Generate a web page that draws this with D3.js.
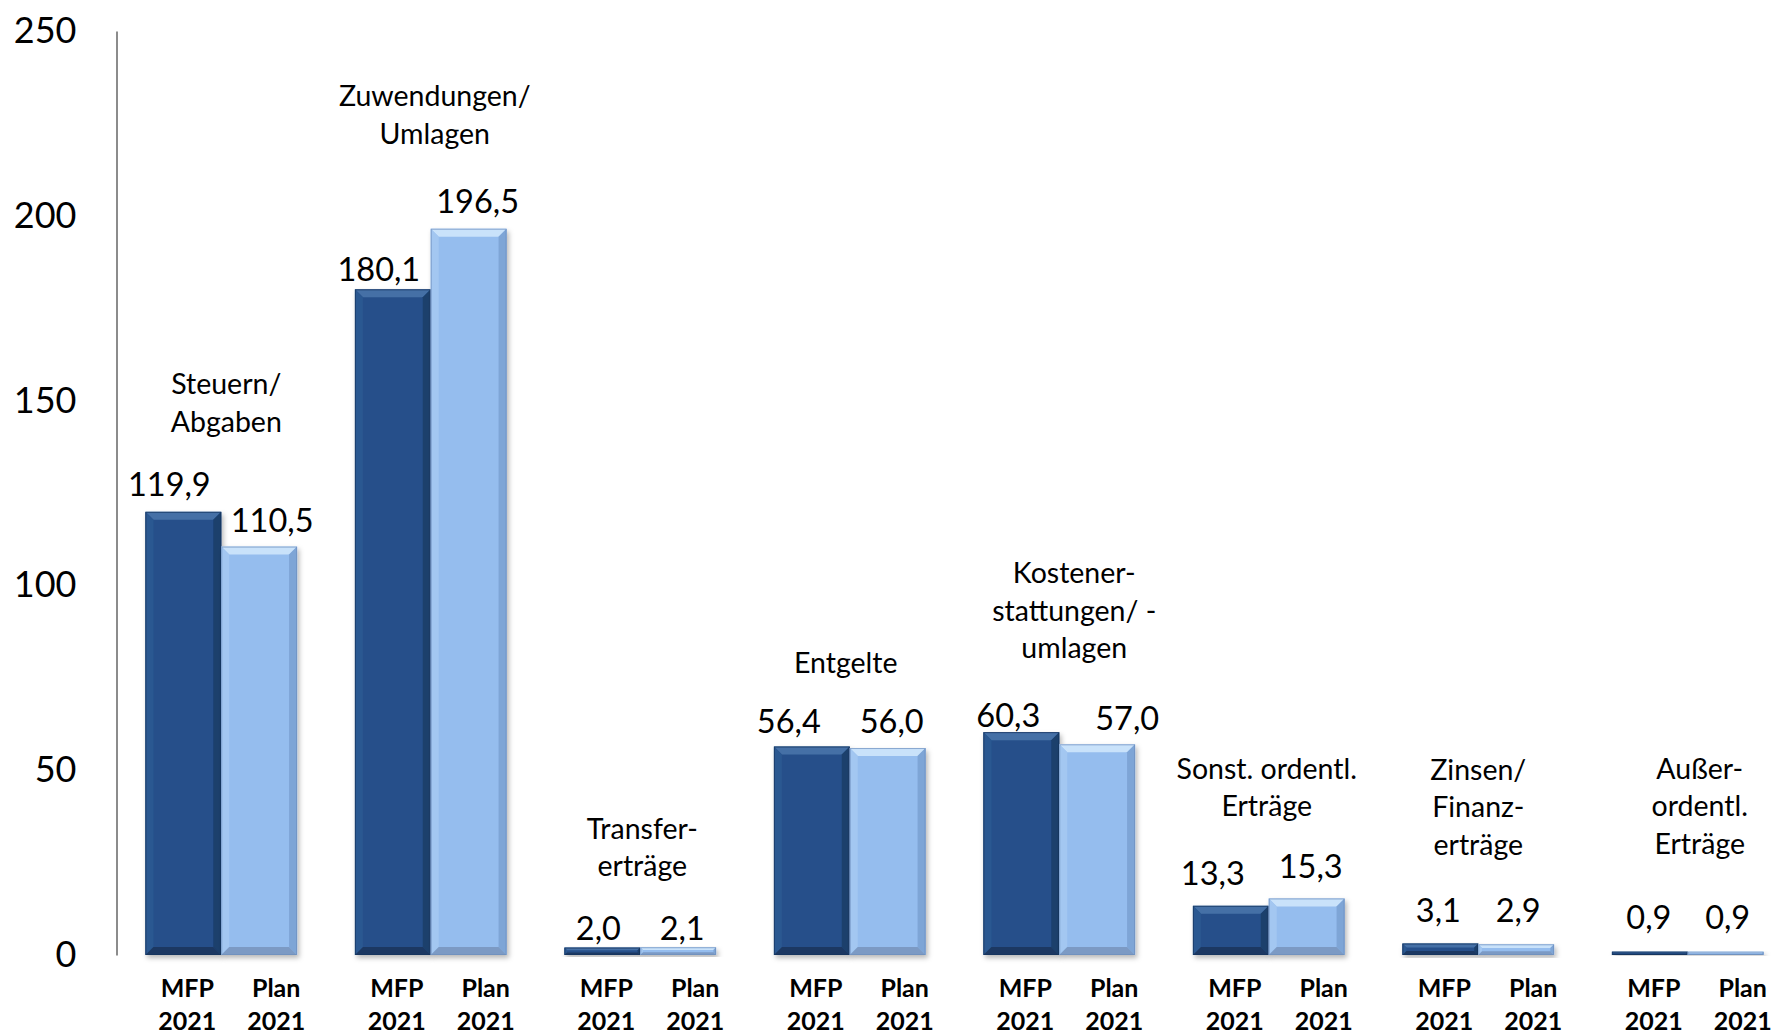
<!DOCTYPE html>
<html>
<head>
<meta charset="utf-8">
<script src="https://cdn.jsdelivr.net/npm/d3@7"></script>
<style>
  html, body { margin: 0; padding: 0; background: #ffffff; }
  svg { display: block; }
  text { font-family: Lato, "Open Sans", sans-serif; fill: #000; }
</style>
</head>
<body>
<svg id="chart" width="1774" height="1035"></svg>
<script>
// ---------------- data ----------------
const categories = [
  "Steuern/\nAbgaben",
  "Zuwendungen/\nUmlagen",
  "Transfer-\nerträge",
  "Entgelte",
  "Kostener-\nstattungen/ -\numlagen",
  "Sonst. ordentl.\nErträge",
  "Zinsen/\nFinanz-\nerträge",
  "Außer-\nordentl.\nErträge"
];
const seriesNames = ["MFP 2021", "Plan 2021"];
const mfp2021  = [119.9, 180.1, 2.0, 56.4, 60.3, 13.3, 3.1, 0.9];
const plan2021 = [110.5, 196.5, 2.1, 56.0, 57.0, 15.3, 2.9, 0.9];
const yTicks = [0, 50, 100, 150, 200, 250];

// ---------------- layout tweaks (label nudges, px) ----------------
const valueDx = [[-14, 13], [-14, 9], [-4, 4], [-23, 4], [-13, 30], [-18, 4], [-2, 2], [-1, 2]];
const valueDy = [[28, 27], [21, 28], [20, 20], [26, 28], [18, 27], [33, 33], [34, 35], [35, 35]];
const catDx   = [5, 4, 2, -4, 15, -2, 0, 12];
const catGap  = [91, 96, 82, 85, 85, 93, 100, 109];

// ---------------- scales ----------------
const svg = d3.select("#chart");
const x0 = d3.scaleBand().domain(d3.range(categories.length))
  .range([116.5, 116.5 + 8 * 209.5]).paddingInner(0.276).paddingOuter(0.138);
const x1 = d3.scaleBand().domain(d3.range(seriesNames.length)).range([0, x0.bandwidth()]).padding(0);
const y = d3.scaleLinear().domain([0, 250]).range([955, 31]);

const fmt = d3.formatLocale({decimal: ",", thousands: ".", grouping: [3], currency: ["", "€"]}).format(".1f");

const palette = [
  {base: "#26508a", top: "#4470a6", left: "#2c5891", right: "#1d3f6c", bottom: "#1a3962", stroke: "#17355c"},
  {base: "#95bdee", top: "#c9e2fa", left: "#a3c7f1", right: "#7ea5d6", bottom: "#7b9ac4", stroke: "#6e8fbd"}
];

// ---------------- defs ----------------
const defs = svg.append("defs");
const f = defs.append("filter").attr("id", "shadow").attr("x", "-10%").attr("y", "-10%").attr("width", "130%").attr("height", "130%");
f.append("feDropShadow").attr("dx", 2).attr("dy", 3).attr("stdDeviation", 2.5)
  .attr("flood-color", "#000").attr("flood-opacity", 0.28);

// ---------------- y axis ----------------
const yAxis = svg.append("g").attr("transform", `translate(${x0.range()[0]},0)`)
  .call(d3.axisLeft(y).tickValues(yTicks).tickSize(0).tickPadding(40).tickFormat(d3.format("d")));
yAxis.select(".domain").attr("stroke", "#8c8c8c").attr("stroke-width", 2);
yAxis.selectAll(".tick text").style("font-family", "Lato, sans-serif").style("font-size", "36px").attr("fill", "#000");

// ---------------- bars ----------------
function bevelBar(g, xa, xb, yt, yb, c) {
  const h = yb - yt, w = xb - xa;
  const b = Math.max(0.5, Math.min(8, h * 0.35, w * 0.2));
  const bar = g.append("g").attr("filter", "url(#shadow)");
  bar.append("rect").attr("x", xa).attr("y", yt).attr("width", w).attr("height", h).attr("fill", c.base);
  const poly = (pts, fill) => bar.append("polygon").attr("points", pts.map(p => p.join(",")).join(" ")).attr("fill", fill);
  poly([[xa, yt], [xb, yt], [xb - b, yt + b], [xa + b, yt + b]], c.top);
  poly([[xa, yt], [xa + b, yt + b], [xa + b, yb - b], [xa, yb]], c.left);
  poly([[xb, yt], [xb, yb], [xb - b, yb - b], [xb - b, yt + b]], c.right);
  poly([[xa, yb], [xa + b, yb - b], [xb - b, yb - b], [xb, yb]], c.bottom);
  bar.append("rect").attr("x", xa + 0.5).attr("y", yt + 0.5).attr("width", Math.max(0, w - 1)).attr("height", Math.max(0, h - 1))
    .attr("fill", "none").attr("stroke", c.stroke).attr("stroke-width", 1).attr("stroke-opacity", 0.7);
}

const valuesBySeries = [mfp2021, plan2021];
const gBars = svg.append("g");
categories.forEach((cat, i) => {
  const gx = x0(i);
  valuesBySeries.forEach((vals, s) => {
    const v = vals[i];
    const xa = gx + x1(s), xb = xa + x1.bandwidth();
    bevelBar(gBars, xa, xb, y(v), y(0), palette[s]);
  });
});

// ---------------- value labels ----------------
const gVal = svg.append("g");
categories.forEach((cat, i) => {
  valuesBySeries.forEach((vals, s) => {
    const v = vals[i];
    const cx = x0(i) + x1(s) + x1.bandwidth() / 2 + valueDx[i][s];
    gVal.append("text").attr("x", cx).attr("y", y(v) - valueDy[i][s])
      .attr("text-anchor", "middle").attr("dominant-baseline", "central")
      .style("font-size", "32.5px").text(fmt(v));
  });
});

// ---------------- category labels ----------------
const gCat = svg.append("g");
const lineH = 37.5;
categories.forEach((cat, i) => {
  const lines = cat.split("\n");
  const top = d3.min([y(mfp2021[i]), y(plan2021[i])]);
  const lastY = top - catGap[i];
  const cx = x0(i) + x0.bandwidth() / 2 + catDx[i];
  const t = gCat.append("text").attr("text-anchor", "middle").style("font-size", "28.5px");
  lines.forEach((ln, k) => {
    t.append("tspan").attr("x", cx).attr("y", lastY - (lines.length - 1 - k) * lineH)
      .attr("dominant-baseline", "central").text(ln);
  });
});

// ---------------- x labels ----------------
const gX = svg.append("g");
const xLabelDx = [4, 17];
categories.forEach((cat, i) => {
  seriesNames.forEach((name, s) => {
    const parts = name.split(" ");
    const cx = Math.min(x0(i) + x1(s) + x1.bandwidth() / 2 + xLabelDx[s], 1743);
    const t = gX.append("text").attr("text-anchor", "middle").style("font-size", "25px").style("font-weight", "bold");
    parts.forEach((p, k) => {
      t.append("tspan").attr("x", cx).attr("y", 987 + k * 33).attr("dominant-baseline", "central").text(p);
    });
  });
});
</script>
</body>
</html>
